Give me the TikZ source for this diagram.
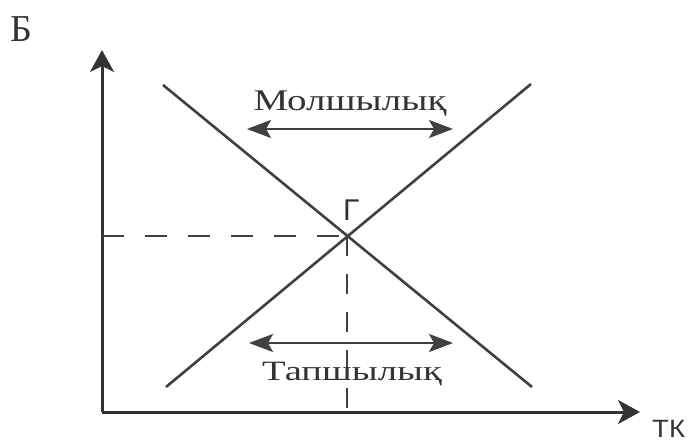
\documentclass[tikz,border=0pt]{standalone}
\usepackage{fontspec}
\setmainfont{Liberation Serif}
\newfontfamily\lsans{Liberation Sans}
\usetikzlibrary{arrows.meta}
\begin{document}
\begin{tikzpicture}[x=1pt,y=-1pt,
  axisline/.style={line width=3pt,draw=black!80,-{Stealth[length=22pt,width=24pt,inset=6pt]}},
  curveline/.style={line width=2.6pt,draw=black!75},
  guideline/.style={line width=2pt,draw=black!75,dash pattern=on 22pt off 21pt},
  dblarrow/.style={line width=2.4pt,draw=black!75,{Stealth[length=24pt,width=18pt,inset=5pt]}-{Stealth[length=24pt,width=18pt,inset=5pt]}},
  lbl/.style={inner sep=0pt,anchor=base west,text=black!80}]
\useasboundingbox (0,0) rectangle (696,441);
% axes
\coordinate (O) at (102,412);
\coordinate (Ytop) at (102,50);
\coordinate (Xend) at (640,412);
\draw[axisline] (O) -- (Ytop);
\draw[axisline] (O) -- (Xend);
% demand and supply
\coordinate (D1) at (163,85);
\coordinate (D2) at (532,387);
\coordinate (S1) at (166,387);
\coordinate (S2) at (531,84);
\draw[curveline] (D1) -- (D2);
\draw[curveline] (S1) -- (S2);
\coordinate (E) at (347,236);
\coordinate (Ey) at (102,236);
\coordinate (Ex) at (347,411);
\draw[guideline] (Ey) -- (E);
\draw[guideline,dash pattern=on 20pt off 18pt] (E) -- (Ex);
% arrows
\coordinate (A1) at (247,129);
\coordinate (A2) at (453,129);
\coordinate (B1) at (249,343);
\coordinate (B2) at (453,343);
\draw[dblarrow] (A1) -- (A2);
\draw[dblarrow] (B1) -- (B2);
% labels
\node[lbl,anchor=base] (mol) at (350,111) {\fontsize{30}{30}\selectfont\scalebox{1.3}[1]{Молшылық}};
\node[lbl,anchor=base] (tap) at (352,380) {\fontsize{28}{28}\selectfont\scalebox{1.38}[1]{Тапшылық}};
\node[lbl] (b) at (10,42) {\fontsize{38}{38}\selectfont Б};
\node[lbl] (tk) at (652,437) {\lsans\fontsize{25}{25}\selectfont\scalebox{1.1}[1]{ТК}};
\node[lbl] (g) at (343,220) {\lsans\fontsize{30}{30}\selectfont Г};
\end{tikzpicture}
\end{document}
